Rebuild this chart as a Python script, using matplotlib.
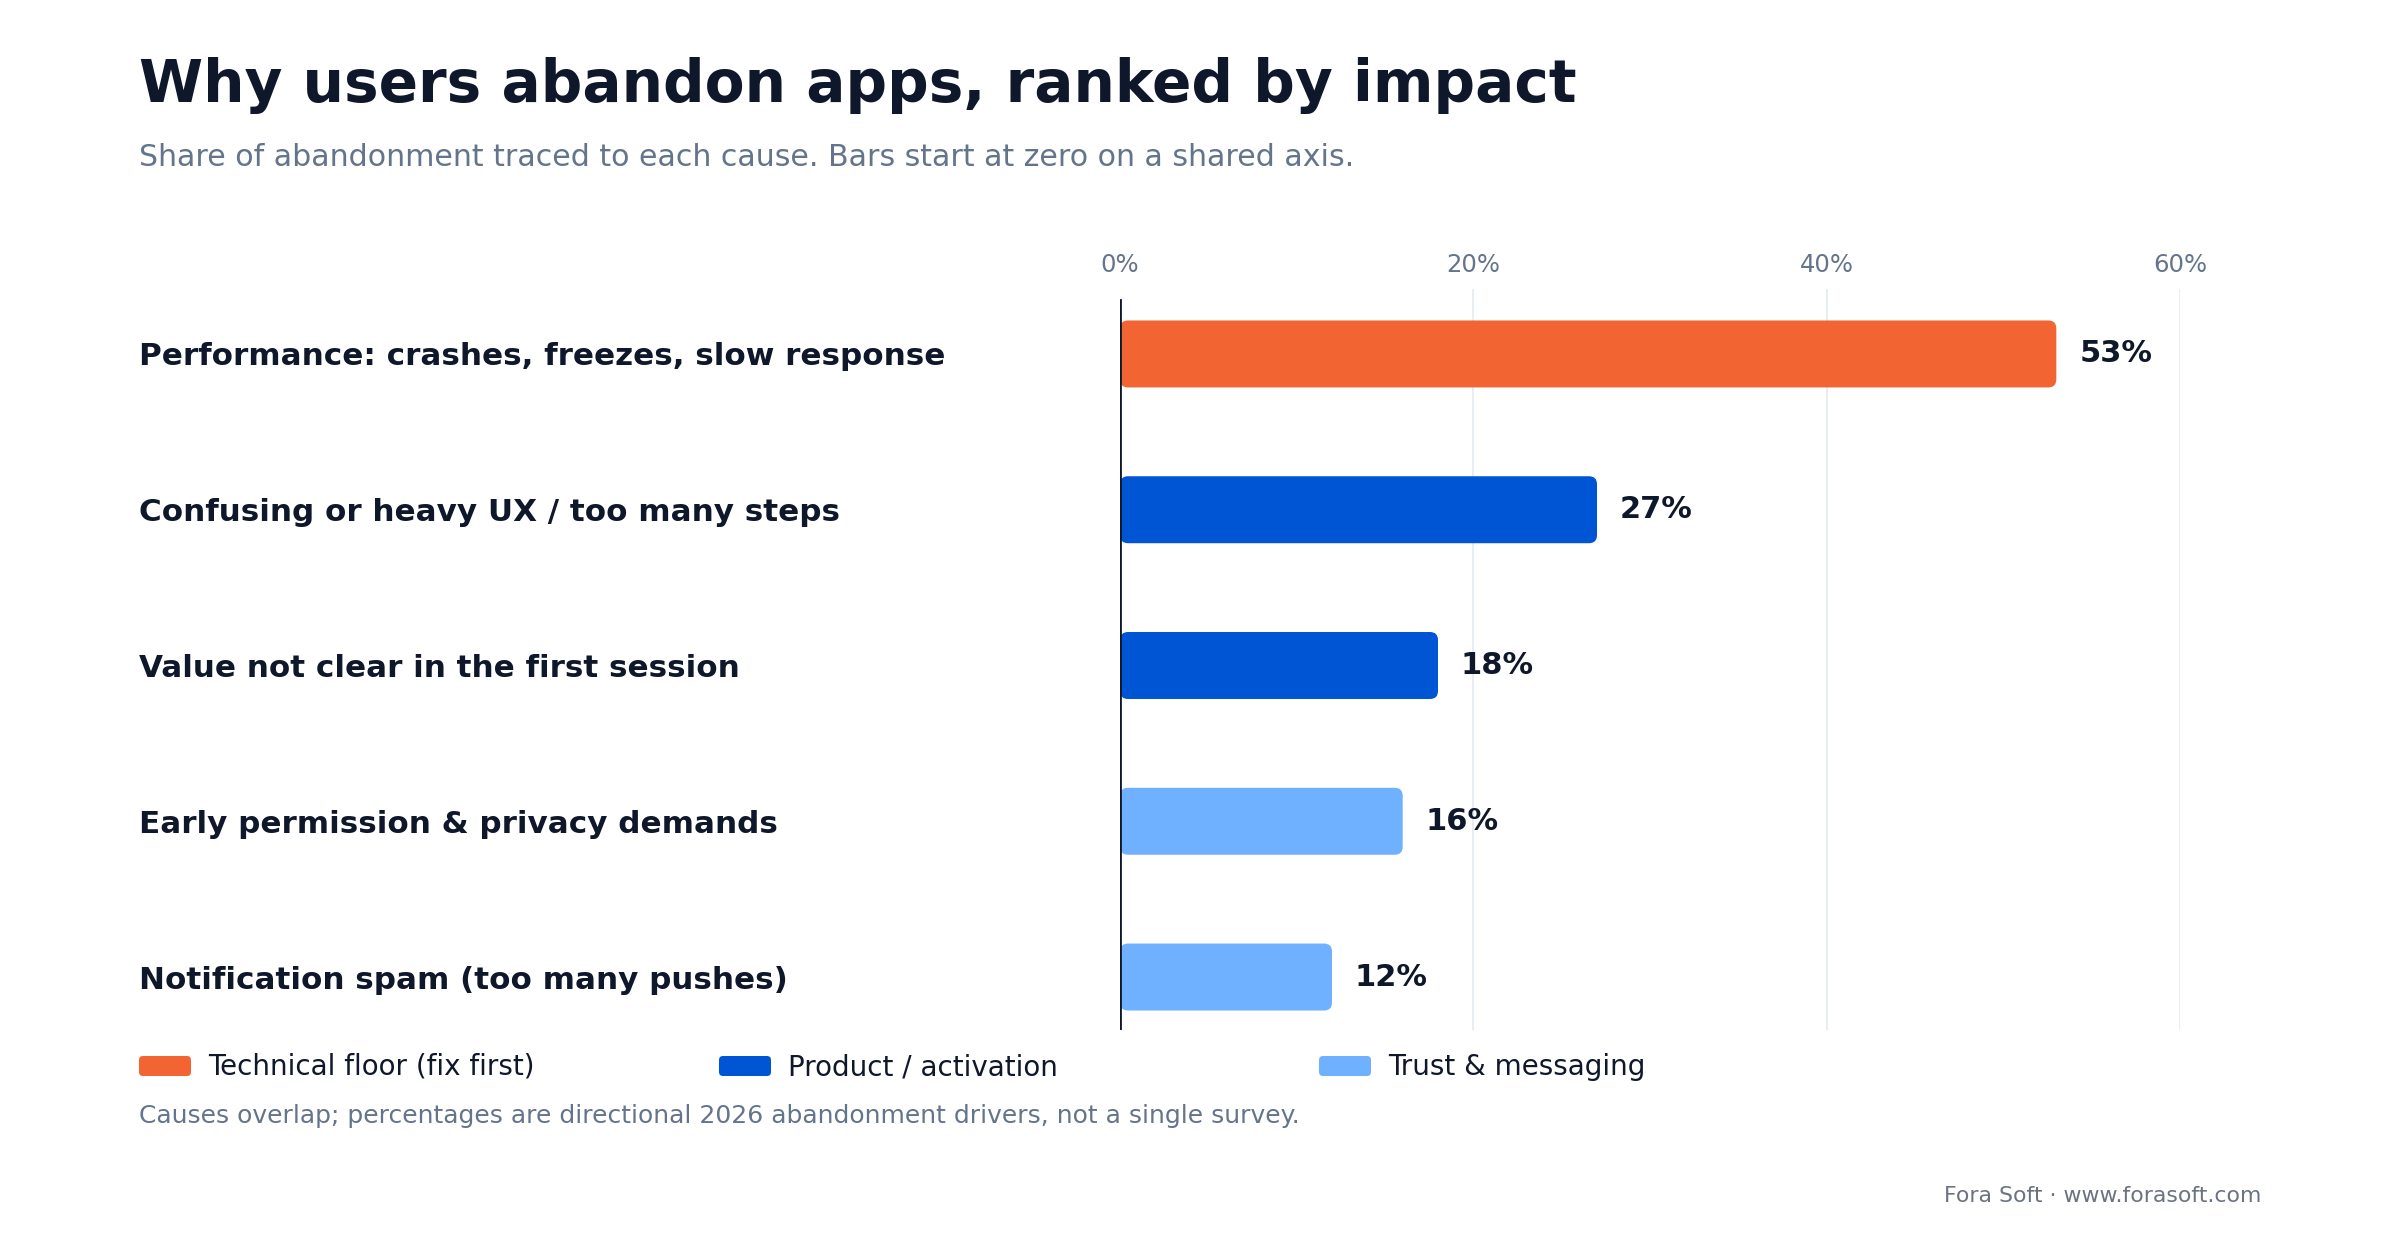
import matplotlib
matplotlib.use("Agg")
import matplotlib.pyplot as plt
from matplotlib.patches import FancyBboxPatch

# data
causes = [
    "Performance: crashes, freezes, slow response",
    "Confusing or heavy UX / too many steps",
    "Value not clear in the first session",
    "Early permission & privacy demands",
    "Notification spam (too many pushes)",
]
shares = [53, 27, 18, 16, 12]
cause_groups = [0, 1, 1, 2, 2]
group_names = ["Technical floor (fix first)", "Product / activation", "Trust & messaging"]
group_colors = ["#F26532", "#0055D4", "#70B1FF"]
xticks = [0, 20, 40, 60]

DARK = "#0f172a"
MUTED = "#64748b"
GRID = "#e2e8f0"

W, H = 2400, 1240
fig = plt.figure(figsize=(W / 100, H / 100), dpi=100)
fig.patch.set_facecolor("white")

# axes placement in pixels
ax_l, ax_r, ax_t, ax_b = 1120, 2180, 289, 1030
ax = fig.add_axes([ax_l / W, 1 - ax_b / H, (ax_r - ax_l) / W, (ax_b - ax_t) / H])
ylo, yhi = 4.34, -0.417
ax.set_xlim(0, 60)
ax.set_ylim(ylo, yhi)
for s in ax.spines.values():
    s.set_visible(False)

# grid lines + zero line
for t in xticks[1:]:
    ax.axvline(t, color=GRID, lw=1.1, zorder=0)
ax.axvline(0, ymin=0, ymax=(ax_b - 300) / (ax_b - ax_t), color=DARK, lw=2, zorder=3)

y = list(range(len(causes)))
colors = [group_colors[g] for g in cause_groups]
bars = ax.barh(y, shares, height=0.43, color=colors)

# swap plain rectangles for rounded ones
px_x = (ax_r - ax_l) / 60.0
px_y = (ax_b - ax_t) / (ylo - yhi)
aspect = px_x / px_y
radius = 8 / px_x
for rect, c in zip(bars, colors):
    rect.set_visible(False)
    x0, y0 = rect.get_x(), rect.get_y()
    fb = FancyBboxPatch((x0, y0), rect.get_width(), rect.get_height(),
                        boxstyle="round,pad=0,rounding_size=%f" % radius,
                        mutation_aspect=aspect, facecolor=c, edgecolor="none", zorder=2)
    ax.add_patch(fb)

for yi, v in zip(y, shares):
    ax.text(v + 1.3, yi, f"{v}%", va="center", ha="left", fontsize=22,
            fontweight="bold", color=DARK)

# ticks
ax.xaxis.tick_top()
ax.set_xticks(xticks)
ax.set_xticklabels([f"{t}%" for t in xticks])
ax.tick_params(axis="x", length=0, pad=9, labelsize=17.5, labelcolor=MUTED)
ax.set_yticks(y)
ax.set_yticklabels(causes)
ax.tick_params(axis="y", length=0, pad=(ax_l - 139) * 0.72, labelsize=22.3, labelcolor=DARK)
for lbl in ax.get_yticklabels():
    lbl.set_horizontalalignment("left")
    lbl.set_fontweight("bold")

# titles
fig.text(139 / W, 1 - 86 / H, "Why users abandon apps, ranked by impact",
         fontsize=41.9, fontweight="bold", color=DARK, va="center", ha="left")
fig.text(139 / W, 1 - 158 / H,
         "Share of abandonment traced to each cause. Bars start at zero on a shared axis.",
         fontsize=21.6, color=MUTED, va="center", ha="left")

# legend
leg_x = [139, 719, 1319]
leg_y = 1066
for name, c, lx in zip(group_names, group_colors, leg_x):
    sw = FancyBboxPatch((lx / W, 1 - (leg_y + 10) / H), 52 / W, 20 / H,
                        boxstyle="round,pad=0,rounding_size=%f" % (4 / W),
                        mutation_aspect=W / H, transform=fig.transFigure,
                        facecolor=c, edgecolor="none")
    fig.patches.append(sw)
    fig.text((lx + 69) / W, 1 - (leg_y + 1) / H, name, fontsize=20, color=DARK,
             va="center", ha="left")

fig.text(139 / W, 1 - 1116 / H,
         "Causes overlap; percentages are directional 2026 abandonment drivers, not a single survey.",
         fontsize=18, color=MUTED, va="center", ha="left")
fig.text(2261 / W, 1 - 1196 / H, "Fora Soft \u00b7 www.forasoft.com",
         fontsize=15.8, color="#6b7280", va="center", ha="right")

fig.savefig("out.png", dpi=100, facecolor="white")
